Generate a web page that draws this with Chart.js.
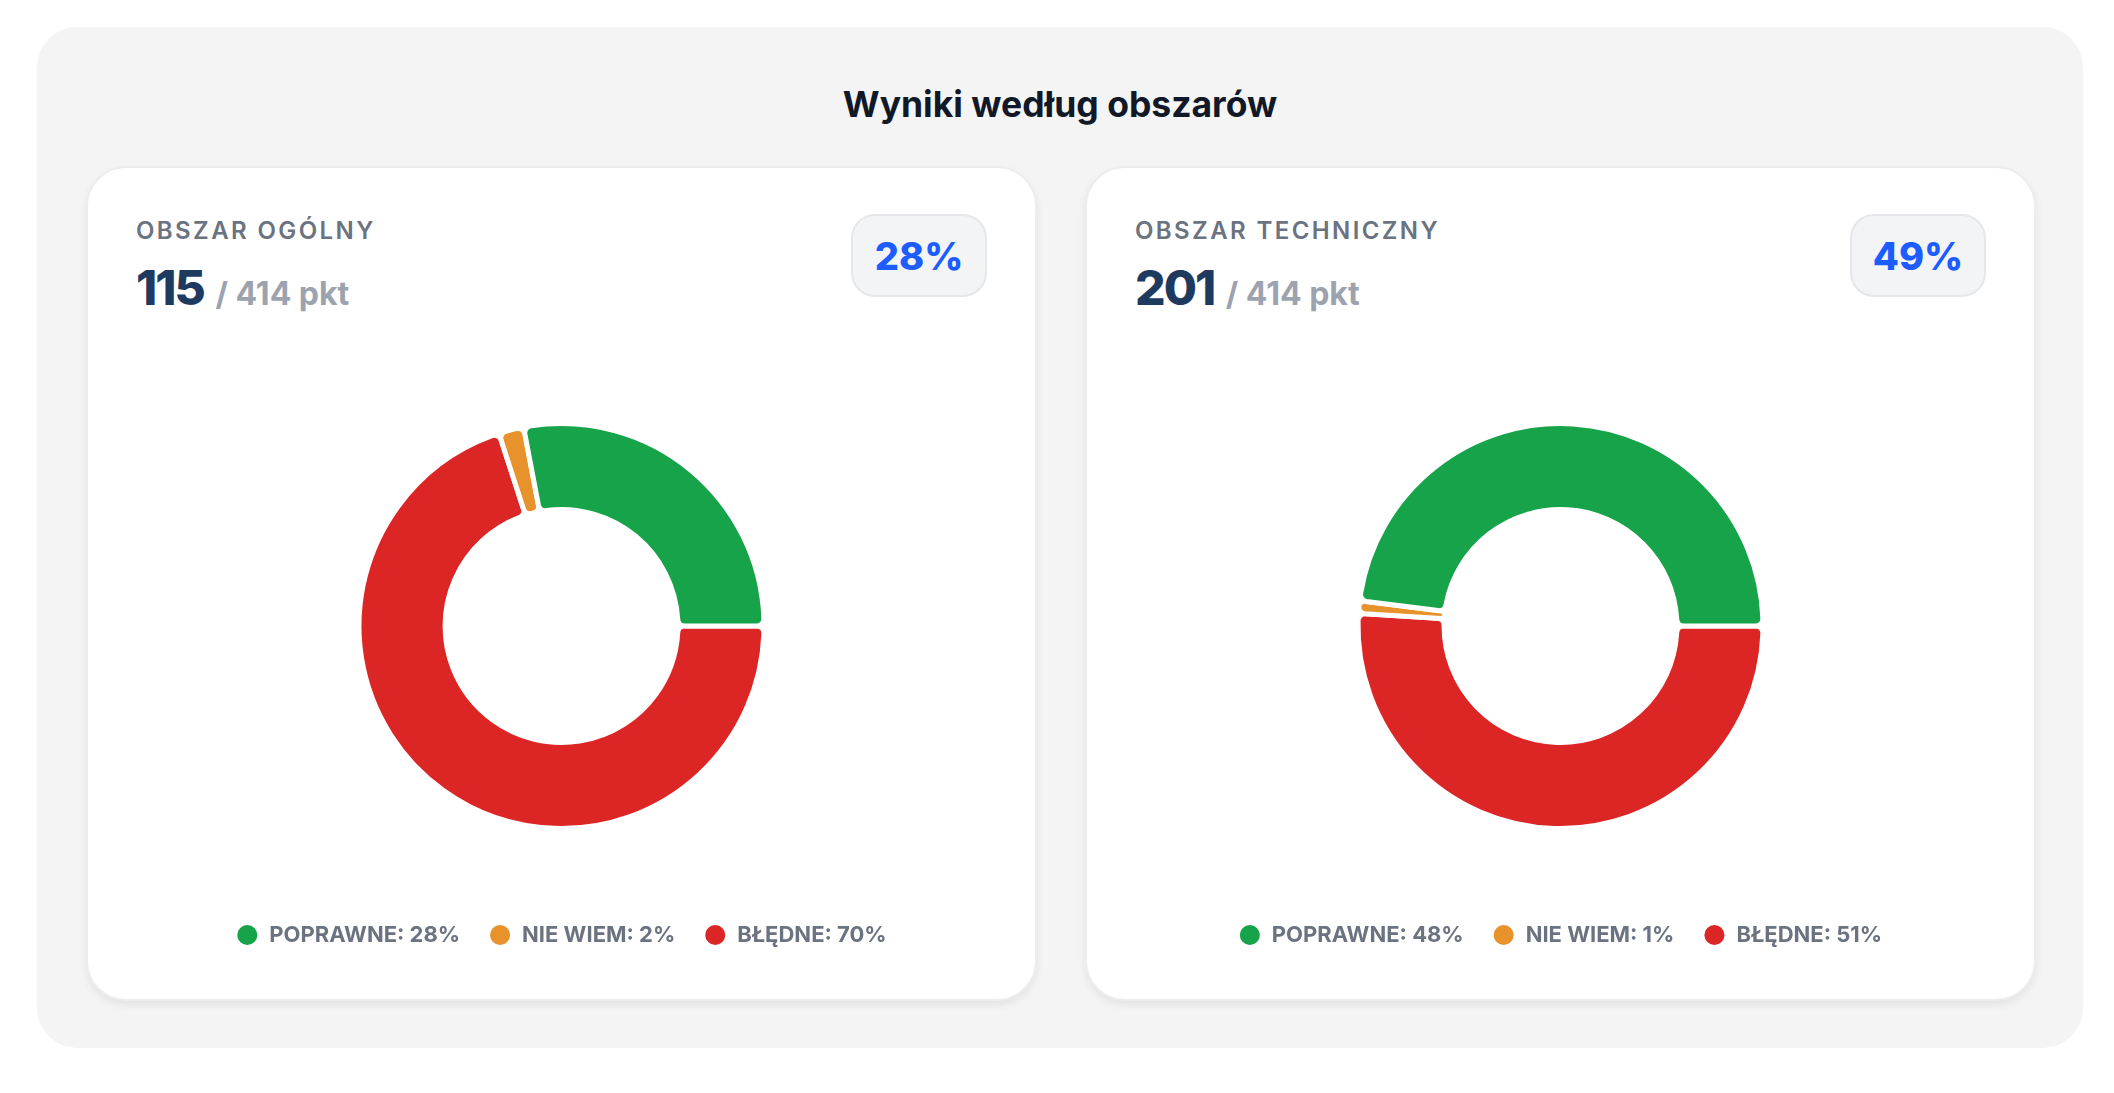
<!DOCTYPE html>
<html lang="pl">
<head>
  <meta charset="UTF-8" />
  <meta name="viewport" content="width=device-width, initial-scale=1.0" />
  <title>Wyniki według obszarów</title>
  <script src="https://cdn.jsdelivr.net/npm/chart.js"></script>
  <style>
    html, body {
      margin: 0;
      padding: 0;
      background: #ffffff;
    }
    body {
      width: 2114px;
      height: 1093px;
      position: relative;
      overflow: hidden;
      font-family: 'Inter', sans-serif;
    }
    .panel {
      position: absolute;
      left: 37px;
      top: 27px;
      width: 2046px;
      height: 1021px;
      background: #f4f4f4;
      border-radius: 40px;
    }
    .panel h2 {
      position: absolute;
      left: 0;
      right: 0;
      top: 57px;
      margin: 0;
      text-align: center;
      font-size: 35.5px;
      line-height: 1.2;
      font-weight: 700;
      color: #111827;
    }
    .card {
      position: absolute;
      top: 139px;
      width: 951px;
      height: 835px;
      box-sizing: border-box;
      background: #ffffff;
      border: 2px solid #ededed;
      border-radius: 40px;
      box-shadow: 0 4px 8px rgba(0,0,0,0.07);
    }
    .head {
      position: absolute;
      left: 48px;
      right: 48px;
      top: 46px;
      display: flex;
      justify-content: space-between;
      align-items: flex-start;
    }
    .info {
      padding-top: 3px;
    }
    .label {
      font-size: 24px;
      line-height: 1.2;
      font-weight: 600;
      letter-spacing: 0.1em;
      color: #6b7280;
    }
    .score {
      margin-top: 13px;
      font-size: 48px;
      line-height: 1.2;
      white-space: nowrap;
    }
    .score b {
      font-weight: 800;
      color: #1e3a5f;
      letter-spacing: -0.04em;
    }
    .score span {
      font-size: 32px;
      font-weight: 700;
      color: #9ca3af;
      margin-left: -2px;
    }
    .badge {
      width: 136px;
      height: 83px;
      box-sizing: border-box;
      border: 2px solid #e5e7eb;
      background: #f3f4f6;
      border-radius: 24px;
      display: flex;
      align-items: center;
      justify-content: center;
      font-size: 38px;
      font-weight: 800;
      color: #1d5cff;
    }
    .chart {
      position: absolute;
      left: 0;
      right: 0;
      top: 189px;
      height: 599px;
    }
  </style>
</head>
<body>
  <div class="panel" id="panel">
    <h2>Wyniki według obszarów</h2>
  </div>

  <script>
    const areaNames = ['OBSZAR OGÓLNY', 'OBSZAR TECHNICZNY'];
    const areaPoints = [115, 201];
    const maxPoints = [414, 414];
    const areaPercent = [28, 49];

    const categories = ['POPRAWNE', 'NIE WIEM', 'BŁĘDNE'];
    const categoryColors = ['#17a34a', '#e8922c', '#dc2626'];
    const generalValues = [28, 2, 70];
    const technicalValues = [48, 1, 51];

    const areaValues = [generalValues, technicalValues];
    const cardLeft = [49, 1048];

    // slices go clockwise from 3 o'clock: BŁĘDNE, NIE WIEM, POPRAWNE
    const drawOrder = [2, 1, 0];

    const panel = document.getElementById('panel');

    areaNames.forEach((name, a) => {
      const card = document.createElement('div');
      card.className = 'card';
      card.style.left = cardLeft[a] + 'px';
      card.innerHTML = `
        <div class="head">
          <div class="info">
            <div class="label">${name}</div>
            <div class="score"><b>${areaPoints[a]}</b> <span>/ ${maxPoints[a]} pkt</span></div>
          </div>
          <div class="badge">${areaPercent[a]}%</div>
        </div>
        <div class="chart"><canvas id="chart${a}"></canvas></div>`;
      panel.appendChild(card);
      makeChart('chart' + a, areaValues[a]);
    });

    function makeChart(canvasId, values) {
      new Chart(document.getElementById(canvasId), {
        type: 'doughnut',
        data: {
          labels: drawOrder.map(i => categories[i]),
          datasets: [{
            data: drawOrder.map(i => values[i]),
            backgroundColor: drawOrder.map(i => categoryColors[i]),
            borderColor: '#ffffff',
            borderWidth: 5,
            borderRadius: 7,
            hoverOffset: 0
          }]
        },
        options: {
          responsive: true,
          maintainAspectRatio: false,
          animation: false,
          rotation: 90,
          radius: 202.5,
          cutout: '57.5%',
          layout: { padding: 0 },
          plugins: {
            tooltip: {
              callbacks: {
                label: ctx => `${ctx.label}: ${ctx.raw}%`
              }
            },
            legend: {
              position: 'bottom',
              labels: {
                usePointStyle: true,
                pointStyle: 'circle',
                boxHeight: 14.2,
                padding: 29,
                color: '#6b7280',
                font: { family: 'Inter', size: 22, weight: '700' },
                generateLabels(chart) {
                  return categories.map((cat, i) => {
                    const idx = drawOrder.indexOf(i);
                    return {
                      text: `${cat}: ${values[i]}%`,
                      fillStyle: categoryColors[i],
                      strokeStyle: categoryColors[i],
                      lineWidth: 0,
                      pointStyle: 'circle',
                      fontColor: '#6b7280',
                      hidden: !chart.getDataVisibility(idx),
                      index: idx
                    };
                  });
                }
              }
            }
          }
        }
      });
    }
  </script>
</body>
</html>
